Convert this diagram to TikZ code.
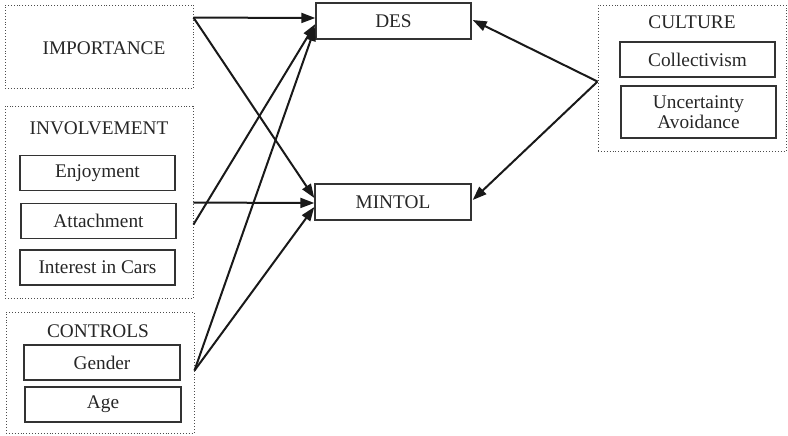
\documentclass[tikz,border=0pt]{standalone}
\usepackage{fontspec}
\setmainfont{Liberation Serif}
\usetikzlibrary{arrows.meta}
\begin{document}
\begin{tikzpicture}[x=1pt,y=-1pt,
  group/.style={draw=black!70,dotted,line width=0.9pt,inner sep=0pt},
  item/.style={draw=black!80,line width=1.4pt,inner sep=0pt,
    minimum width=155pt,minimum height=35pt,align=center},
  label/.style={inner sep=0pt},
  link/.style={line width=2pt,black!90,-{Triangle[length=14pt,width=10pt]}},
  every node/.style={font=\fontsize{19.3}{22}\selectfont,text=black!85}]
\useasboundingbox (0,0) rectangle (788,436);

% left-hand groups
\node[group,minimum width=188pt,minimum height=83pt] (imp) at (99,46.5) {};
\node[label] at (104,48) {IMPORTANCE};

\node[group,minimum width=188pt,minimum height=192pt] (inv) at (99,202) {};
\node[label] (invt) at (99,128) {INVOLVEMENT};
\node[item] (enj) at (97.5,173) {Enjoyment};
\node[item] (att) at (98.5,221) {Attachment};
\node[item] (int) at (97.5,267.5) {Interest in Cars};

\node[group,minimum width=188pt,minimum height=121pt] (ctl) at (100,372.5) {};
\node[label] (ctlt) at (98,331) {CONTROLS};
\node[item,minimum width=156pt] (gen) at (102,362.5) {Gender};
\node[item,minimum width=156pt] (age) at (103,404.5) {Age};

% outcomes
\node[item,minimum height=36pt] (des) at (393.5,21) {DES};
\node[item,minimum width=156pt,minimum height=36pt] (mint) at (393,202) {MINTOL};

% culture group
\node[group,minimum width=188pt,minimum height=146pt] (cul) at (692,78) {};
\node[label] (cult) at (692,22) {CULTURE};
\node[item] (col) at (697.5,59.5) {Collectivism};
\node[item,minimum height=52pt] (unc) at (698.5,112) {Uncertainty\\[-2pt]Avoidance};

% paths
\coordinate (impo) at ([yshift=-13pt]imp.north east);
\coordinate (inva) at ([yshift=-97pt]inv.north east);
\coordinate (invb) at ([yshift=-119pt]inv.north east);
\coordinate (ctlo) at ([yshift=-59pt]ctl.north east);
\coordinate (culo) at ([yshift=-77pt]cul.north west);

\draw[link] (impo) -- ([yshift=3pt]des.west);
\draw[link] (impo) -- ([yshift=4pt]mint.west);
\draw[link] (inva) -- ([yshift=-1pt]mint.west);
\draw[link] (invb) -- ([yshift=-3pt]des.west);
\draw[link] (ctlo) -- ([yshift=-6pt]des.west);
\draw[link] (ctlo) -- ([yshift=-5pt]mint.west);
\draw[link] (culo) -- ([yshift=1pt,xshift=1pt]des.east);
\draw[link] (culo) -- ([yshift=2pt,xshift=1pt]mint.east);
\end{tikzpicture}
\end{document}
